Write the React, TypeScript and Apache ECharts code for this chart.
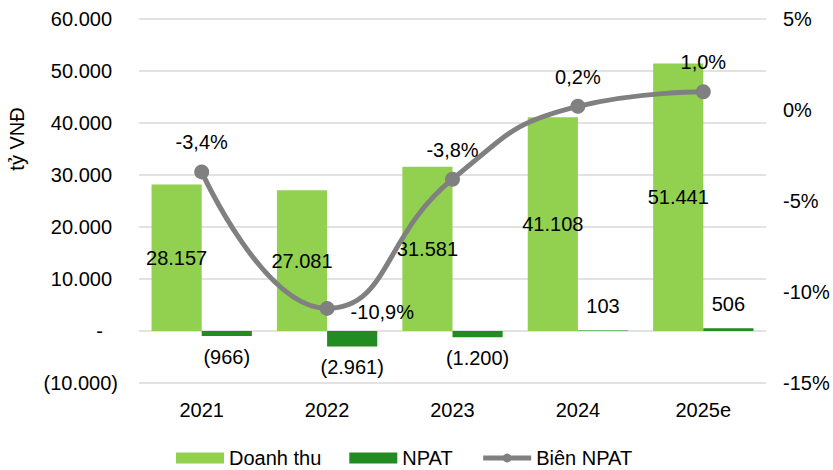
import React, { useEffect, useRef } from "react";
import * as echarts from "echarts";

const categories = ["2021", "2022", "2023", "2024", "2025e"];
const revenue = [28157, 27081, 31581, 41108, 51441];
const npat = [-966, -2961, -1200, 103, 506];
const npatMargin = [-3.4, -10.9, -3.8, 0.2, 1.0];
const leftTicks = { min: -10000, max: 60000, interval: 10000 };
const rightTicks = { min: -15, max: 5, interval: 5 };

const FONT = "'Liberation Sans', Arial, sans-serif";
const FS = 20;

function fmt(n: number): string {
  const s = Math.abs(n)
    .toString()
    .replace(/\B(?=(\d{3})+(?!\d))/g, ".");
  return n < 0 ? `(${s})` : s;
}
function pct(v: number): string {
  return v.toFixed(1).replace(".", ",") + "%";
}

export default function App() {
  const ref = useRef<HTMLDivElement>(null);
  useEffect(() => {
    document.body.style.margin = "0";
    const chart = echarts.init(ref.current!, null, { renderer: "svg" });
    const textBase = { fontFamily: FONT, fontSize: FS, color: "#000" };
    chart.setOption({
      animation: false,
      backgroundColor: "#fff",
      textStyle: { fontFamily: FONT },
      grid: { left: 139, right: 67, top: 19, bottom: 87, containLabel: false },
      legend: {
        left: 171,
        top: 443,
        itemWidth: 48,
        itemHeight: 11,
        itemGap: 28,
        textStyle: { ...textBase },
        lineStyle: { width: 5 },
        data: [
          { name: "Doanh thu", icon: "rect" },
          { name: "NPAT", icon: "rect" },
          { name: "Biên NPAT" },
        ],
      },
      graphic: [
        {
          type: "text",
          x: 17,
          y: 139,
          rotation: Math.PI / 2,
          style: {
            text: "tỷ VNĐ",
            font: `${FS}px ${FONT}`,
            fill: "#000",
            align: "center",
            verticalAlign: "middle",
          },
        },
      ],
      xAxis: {
        type: "category",
        data: categories,
        axisLine: { show: false, onZero: false },
        axisTick: { show: false },
        axisLabel: { ...textBase, margin: 17 },
      },
      yAxis: [
        {
          type: "value",
          ...leftTicks,
          axisLine: { show: false },
          axisTick: { show: false },
          splitLine: { lineStyle: { color: "#D9D9D9", width: 1.5 } },
          axisLabel: {
            ...textBase,
            margin: 21,
            formatter: (v: number) =>
              v === 0 ? "{z|-}" : v < 0 ? "{n|" + fmt(v) + "}" : "{p|" + fmt(v) + "}",
            rich: {
              p: { ...textBase, padding: [0, 6, 0, 0] },
              z: { ...textBase, padding: [0, 15, 0, 0] },
              n: { ...textBase },
            },
          },
        },
        {
          type: "value",
          ...rightTicks,
          axisLine: { show: false },
          axisTick: { show: false },
          splitLine: { show: false },
          axisLabel: { ...textBase, margin: 17, formatter: (v: number) => v + "%" },
        },
      ],
      series: [
        {
          name: "Doanh thu",
          type: "bar",
          yAxisIndex: 0,
          data: revenue,
          barGap: "0%",
          barCategoryGap: "20%",
          itemStyle: { color: "#92D050" },
          label: {
            show: true,
            position: "inside",
            ...textBase,
            formatter: (p: any) => fmt(p.value),
          },
        },
        {
          name: "NPAT",
          type: "bar",
          yAxisIndex: 0,
          data: npat.map((v) => ({
            value: v,
            label: { position: v < 0 ? "bottom" : "top", distance: v < 0 ? 11 : 14 },
          })),
          barGap: "0%",
          barCategoryGap: "20%",
          itemStyle: { color: "#228B22" },
          label: {
            show: true,
            ...textBase,
            formatter: (p: any) => fmt(p.value),
          },
        },
        {
          name: "Biên NPAT",
          type: "line",
          yAxisIndex: 1,
          smooth: 0.5,
          symbol: "circle",
          symbolSize: 15,
          lineStyle: { color: "#808080", width: 5 },
          itemStyle: { color: "#808080" },
          data: npatMargin.map((v, i) => ({
            value: v,
            label:
              i === 1
                ? { position: "right", distance: 16, offset: [0, 4] }
                : { position: "top", distance: 12 },
          })),
          label: {
            show: true,
            ...textBase,
            formatter: (p: any) => pct(p.value),
          },
          z: 5,
        },
      ],
    });
    return () => chart.dispose();
  }, []);
  return <div ref={ref} style={{ width: 833, height: 470 }} />;
}
